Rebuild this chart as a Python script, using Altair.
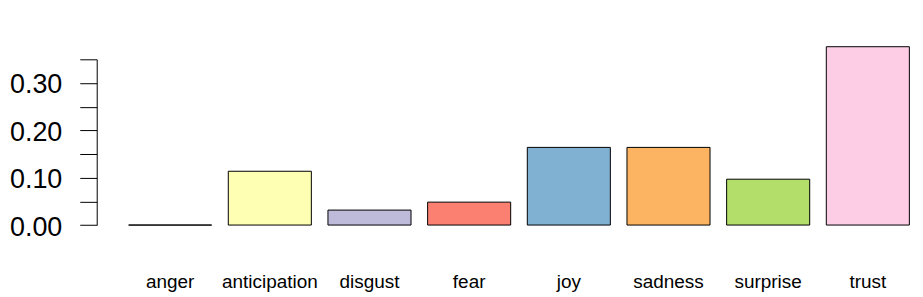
import altair as alt
import pandas as pd

emotions = ["anger", "anticipation", "disgust", "fear", "joy", "sadness", "surprise", "trust"]
proportions = [0.0, 0.1136, 0.0316, 0.0484, 0.164, 0.164, 0.0968, 0.3766]
colors = ["#8DD3C7", "#FFFFB3", "#BEBADA", "#FB8072", "#80B1D3", "#FDB462", "#B3DE69", "#FCCDE5"]
y_ticks = [0.0, 0.05, 0.10, 0.15, 0.20, 0.25, 0.30, 0.35]

df = pd.DataFrame({"emotion": emotions, "value": proportions})

FONT = "Liberation Sans"

bars = alt.Chart(df).mark_bar(stroke="black", strokeWidth=1).encode(
    x=alt.X(
        "emotion:N",
        sort=emotions,
        scale=alt.Scale(paddingInner=1 / 6, paddingOuter=0.18833, align=0.85),
        axis=alt.Axis(
            title=None,
            domain=False,
            ticks=False,
            grid=False,
            labelAngle=0,
            labelFont=FONT,
            labelFontSize=19,
            labelColor="black",
            labelBaseline="middle",
            labelPadding=57,
        ),
    ),
    y=alt.Y(
        "value:Q",
        scale=alt.Scale(domain=[0, 0.35], nice=False, zero=True),
        axis=alt.Axis(
            title=None,
            values=y_ticks,
            labelExpr="(round(datum.value*100) % 10 == 0) ? format(datum.value, '.2f') : ''",
            grid=False,
            tickSize=17,
            tickColor="black",
            tickWidth=1,
            domainColor="black",
            domainWidth=1,
            labelFont=FONT,
            labelFontSize=27,
            labelColor="black",
            labelPadding=18,
            labelOffset=2,
            labelBaseline="middle",
        ),
    ),
    color=alt.Color(
        "emotion:N",
        sort=emotions,
        scale=alt.Scale(domain=emotions, range=colors),
        legend=None,
    ),
)

chart = bars.properties(
    width=821,
    height=166.3,
    background="white",
    autosize=alt.AutoSizeParams(type="none"),
    padding={"left": 89, "top": 51, "right": 0, "bottom": 71},
).configure_view(strokeWidth=0, stroke="transparent")

chart.save("out.html", embed_options={"renderer": "svg", "actions": False})
